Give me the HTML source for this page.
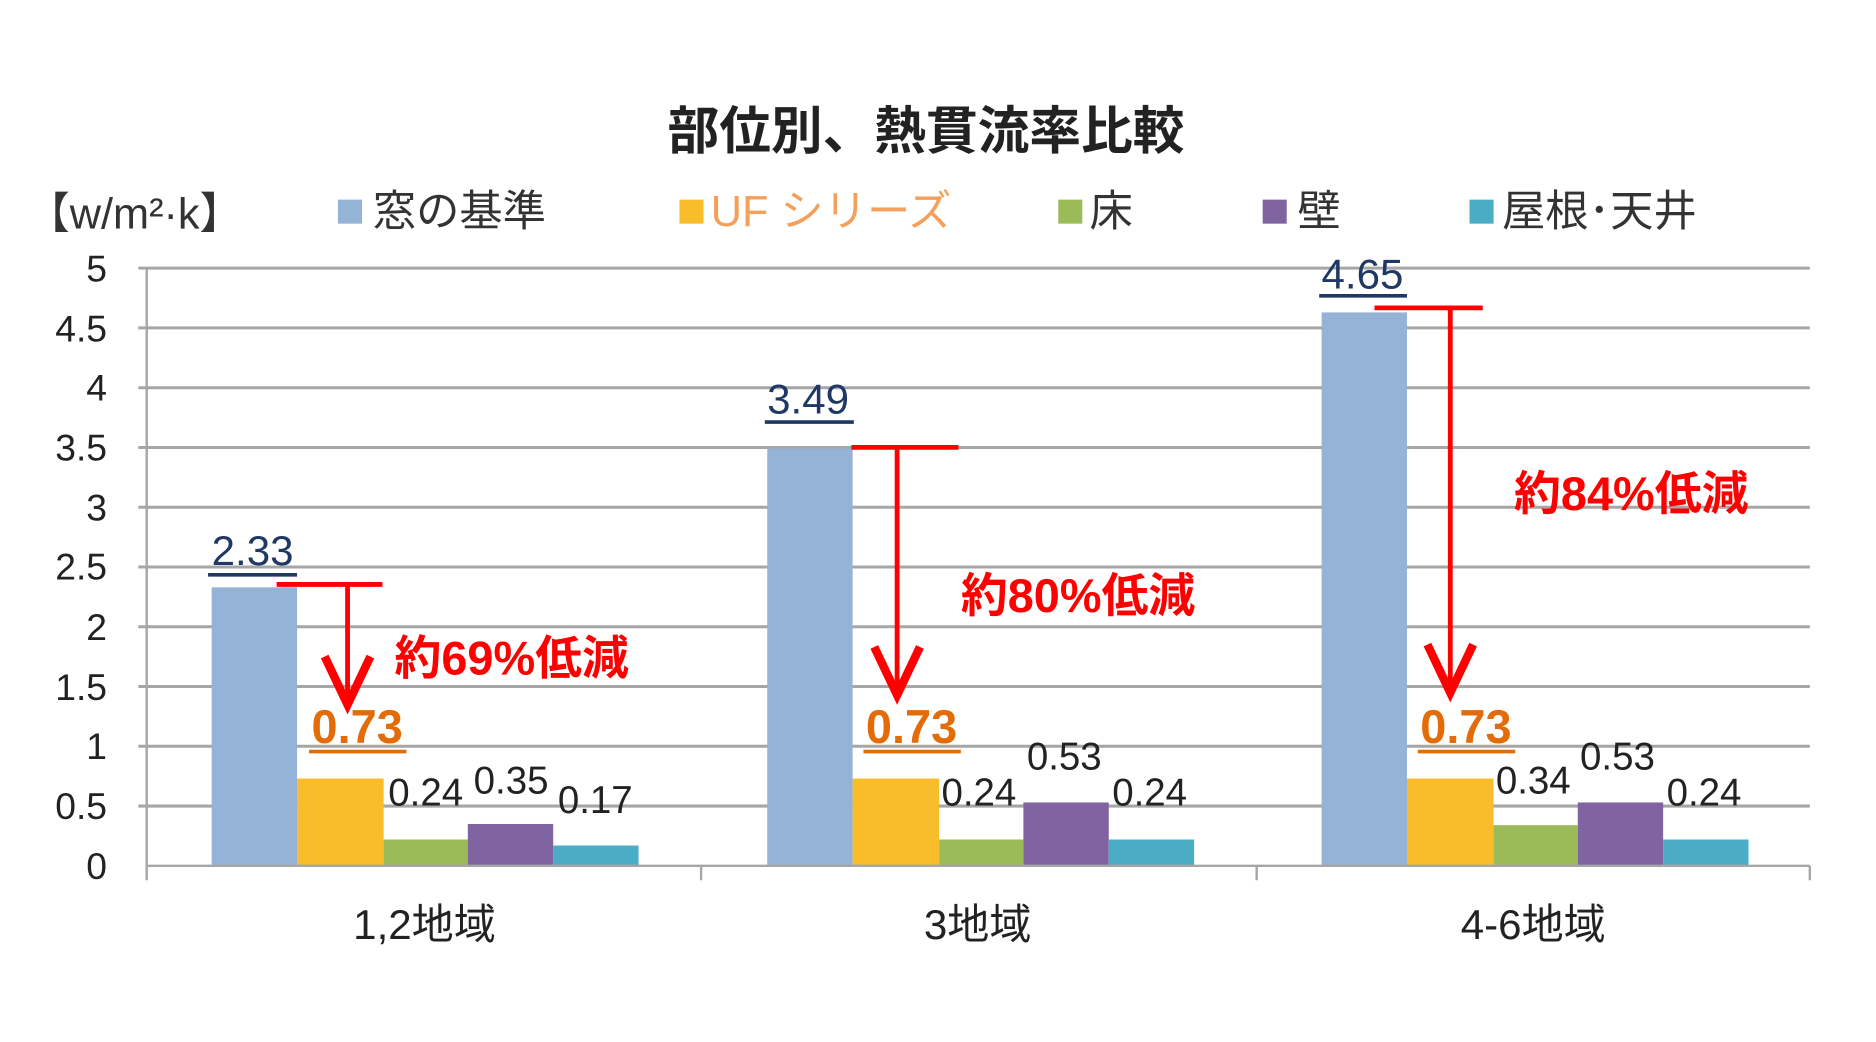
<!DOCTYPE html>
<html><head><meta charset="utf-8"><style>html,body{margin:0;padding:0;background:#fff;}svg{display:block}</style></head>
<body>
<svg width="1876" height="1042" viewBox="0 0 1560 866.5" xmlns="http://www.w3.org/2000/svg" font-family="'Liberation Sans','Noto Sans CJK JP',sans-serif">
<rect width="1560" height="866.5" fill="#fff"/>
<text x="770" y="124" text-anchor="middle" font-size="43" font-weight="bold" fill="#222">部位別、熱貫流率比較</text>
<g font-size="36" fill="#333">
<text x="22" y="190">【w/m²·k】</text>
<rect x="281" y="166" width="20" height="20" fill="#95b3d7"/><text x="310" y="188">窓の基準</text>
<rect x="565" y="166" width="20" height="20" fill="#f9bd2b"/><text x="591" y="188" fill="#f5a05a">UF シリーズ</text>
<rect x="880" y="166" width="20" height="20" fill="#9bbb59"/><text x="906" y="188">床</text>
<rect x="1050" y="166" width="20" height="20" fill="#8064a2"/><text x="1079" y="188">壁</text>
<rect x="1222" y="166" width="20" height="20" fill="#4bacc6"/><text x="1249" y="188">屋根･天井</text>
</g>
<g stroke="#a6a6a6" stroke-width="2.5">
<line x1="115" y1="223" x2="1505" y2="223"/><line x1="115" y1="272.7" x2="1505" y2="272.7"/>
<line x1="115" y1="322.4" x2="1505" y2="322.4"/><line x1="115" y1="372.1" x2="1505" y2="372.1"/>
<line x1="115" y1="421.8" x2="1505" y2="421.8"/><line x1="115" y1="471.5" x2="1505" y2="471.5"/>
<line x1="115" y1="521.2" x2="1505" y2="521.2"/><line x1="115" y1="570.9" x2="1505" y2="570.9"/>
<line x1="115" y1="620.6" x2="1505" y2="620.6"/><line x1="115" y1="670.3" x2="1505" y2="670.3"/>
</g>
<g font-size="31" fill="#222" text-anchor="end">
<text x="89" y="234">5</text><text x="89" y="284">4.5</text><text x="89" y="333">4</text><text x="89" y="383">3.5</text><text x="89" y="433">3</text><text x="89" y="482">2.5</text><text x="89" y="532">2</text><text x="89" y="582">1.5</text><text x="89" y="631">1</text><text x="89" y="681">0.5</text><text x="89" y="731">0</text>
</g>
<g>
<rect x="176" y="488.4" width="71" height="231.6" fill="#95b3d7"/>
<rect x="247" y="647.4" width="72" height="72.6" fill="#f9bd2b"/>
<rect x="319" y="698.1" width="70" height="21.9" fill="#9bbb59"/>
<rect x="389" y="685.2" width="71" height="34.8" fill="#8064a2"/>
<rect x="460" y="703.1" width="71" height="16.9" fill="#4bacc6"/>
<rect x="638" y="373" width="71" height="347" fill="#95b3d7"/>
<rect x="709" y="647.4" width="72" height="72.6" fill="#f9bd2b"/>
<rect x="781" y="698.1" width="70" height="21.9" fill="#9bbb59"/>
<rect x="851" y="667.3" width="71" height="52.7" fill="#8064a2"/>
<rect x="922" y="698.1" width="71" height="21.9" fill="#4bacc6"/>
<rect x="1099" y="259.8" width="71" height="460.2" fill="#95b3d7"/>
<rect x="1170" y="647.4" width="72" height="72.6" fill="#f9bd2b"/>
<rect x="1242" y="686.2" width="70" height="33.8" fill="#9bbb59"/>
<rect x="1312" y="667.3" width="71" height="52.7" fill="#8064a2"/>
<rect x="1383" y="698.1" width="71" height="21.9" fill="#4bacc6"/>
</g>
<g stroke="#a6a6a6" stroke-width="2">
<line x1="122" y1="223" x2="122" y2="732"/>
<line x1="122" y1="720" x2="1505" y2="720"/>
<line x1="583" y1="720" x2="583" y2="732"/><line x1="1045" y1="720" x2="1045" y2="732"/><line x1="1505" y1="720" x2="1505" y2="732"/>
</g>
<g font-size="35" fill="#222" text-anchor="middle">
<text x="353" y="781">1,2地域</text><text x="813" y="781">3地域</text><text x="1275" y="781">4-6地域</text>
</g>
<g font-size="35" fill="#1f3864" text-anchor="middle">
<text x="210" y="470">2.33</text><text x="672" y="344">3.49</text><text x="1133" y="240">4.65</text>
</g>
<g stroke="#1f3864" stroke-width="3">
<line x1="173" y1="478" x2="247" y2="478"/><line x1="636" y1="351" x2="710" y2="351"/><line x1="1097" y1="246" x2="1170" y2="246"/>
</g>
<g font-size="39" font-weight="bold" fill="#e36c09" text-anchor="middle">
<text x="297" y="618">0.73</text><text x="758" y="618">0.73</text><text x="1219" y="618">0.73</text>
</g>
<g stroke="#e36c09" stroke-width="3">
<line x1="257" y1="625" x2="338" y2="625"/><line x1="718" y1="625" x2="799" y2="625"/><line x1="1179" y1="625" x2="1260" y2="625"/>
</g>
<g font-size="32" fill="#222" text-anchor="middle">
<text x="354" y="670">0.24</text><text x="425" y="660">0.35</text><text x="495" y="676">0.17</text>
<text x="814" y="670">0.24</text><text x="885" y="640">0.53</text><text x="956" y="670">0.24</text>
<text x="1275" y="660">0.34</text><text x="1345" y="640">0.53</text><text x="1417" y="670">0.24</text>
</g>
<g stroke="#ff0000" stroke-width="4" fill="none" stroke-linejoin="miter">
<line x1="230" y1="486" x2="318" y2="486"/><line x1="289" y1="486" x2="289" y2="584"/>
<polyline points="270,546 289,586 308,546" stroke-width="7"/>
<line x1="708" y1="372" x2="797" y2="372"/><line x1="746" y1="372" x2="746" y2="576"/>
<polyline points="727,538 746,578 765,538" stroke-width="7"/>
<line x1="1143" y1="256" x2="1233" y2="256"/><line x1="1206" y1="256" x2="1206" y2="574"/>
<polyline points="1187,536 1206,576 1225,536" stroke-width="7"/>
</g>
<g font-size="39" font-weight="bold" fill="#ff0000">
<text x="328" y="561">約69%低減</text><text x="799" y="509">約80%低減</text><text x="1259" y="424">約84%低減</text>
</g>
</svg>
</body></html>
